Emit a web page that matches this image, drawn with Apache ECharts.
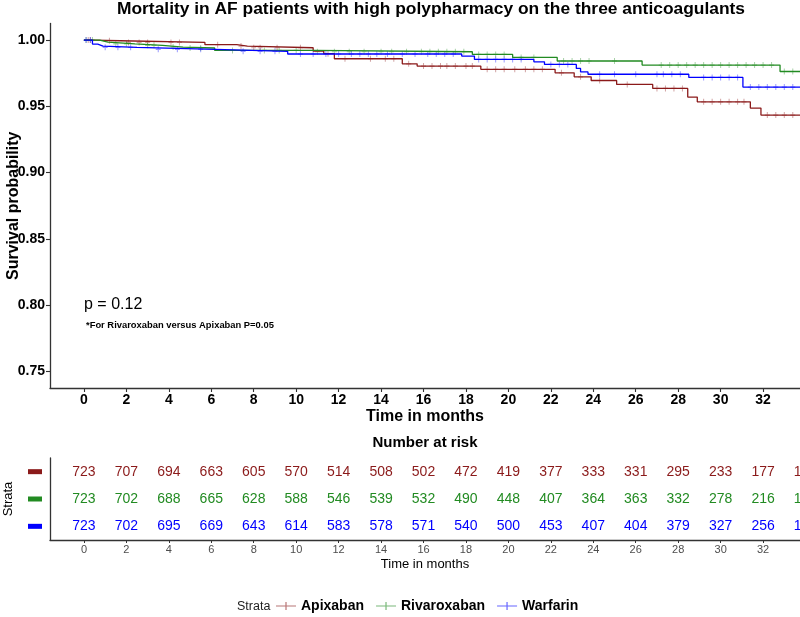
<!DOCTYPE html>
<html><head><meta charset="utf-8">
<script src="https://cdn.jsdelivr.net/npm/echarts@6/dist/echarts.min.js"></script>
<style>html,body{margin:0;padding:0;background:#fff}#c{width:800px;height:617px}</style>
</head><body><div id="c"></div>
<script>
const FONT = '"Liberation Sans", Arial, sans-serif';
const strata = ['Apixaban', 'Rivaroxaban', 'Warfarin'];
const colors = ['#8b1a1a', '#228b22', '#0000ff'];

// Kaplan-Meier step points [month, survival]
const apixabanSteps = [[0,1],[0.4,0.9995],[1.7,0.9982],[5.7,0.9965],[7.2,0.9955],[7.7,0.9942],[10.8,0.9917],[11.3,0.9897],[11.8,0.9859],[15.0,0.9821],[15.7,0.9804],[18.7,0.9779],[22.2,0.9753],[23.1,0.9723],[23.9,0.9695],[25.1,0.9665],[26.8,0.9635],[28.45,0.9570],[28.9,0.9534],[31.4,0.9487],[31.9,0.9434],[34.5,0.9434]];
const rivaroxabanSteps = [[0,1],[0.74,0.9985],[1.13,0.9972],[2.4,0.996],[3.7,0.9947],[4.67,0.994],[6.16,0.9922],[10.8,0.9912],[18.3,0.9892],[20.2,0.9869],[22.3,0.9842],[26.3,0.9811],[32.8,0.9763],[34.5,0.9763]];
const warfarinSteps = [[0,1],[0.4,0.997],[0.65,0.9955],[0.9,0.9945],[2.5,0.993],[6.2,0.9915],[9.6,0.9895],[17.8,0.9879],[18.4,0.9854],[21.2,0.9836],[21.7,0.9816],[23.2,0.9786],[23.4,0.976],[23.75,0.9742],[28.5,0.9718],[31.05,0.9645],[34.5,0.9645]];

// censoring times (months)
const apixabanCensor = [0.2,0.3,1.2,2.1,2.6,3.0,4.1,4.5,6.3,7.4,8.0,8.3,9.1,10.2,11.5,12.3,13.5,14.2,14.6,15.3,16.0,16.4,16.8,17.1,17.5,18.0,18.3,19.0,19.4,19.8,20.3,20.8,21.2,21.6,22.5,23.4,24.3,25.6,27.0,27.4,27.8,28.2,29.2,29.6,30.0,30.4,30.8,31.1,32.2,32.6,33.0,33.4,33.8];
const rivaroxabanCensor = [0.1,0.4,1.5,2.0,3.0,3.3,4.2,5.0,5.5,7.0,8.5,9.2,10.0,11.0,11.8,12.5,13.2,14.0,14.5,15.2,15.9,16.3,16.7,17.1,17.5,17.9,18.6,19.0,19.4,19.8,20.6,21.2,22.6,23.0,23.4,23.8,25.0,27.2,27.6,28.0,28.4,28.8,29.2,29.6,30.0,30.4,30.8,31.2,31.6,32.0,32.4,33.0,33.4,33.8];
const warfarinCensor = [0.1,0.3,1.0,1.6,2.2,3.5,4.4,5.5,7.5,8.3,9.0,10.2,10.8,11.4,12.0,12.6,13.0,13.4,13.8,14.3,15.0,15.6,16.2,16.6,17.0,17.4,18.6,19.0,19.4,19.8,20.2,20.6,22.0,22.4,22.8,24.3,25.0,26.0,27.0,27.3,27.7,28.1,29.2,29.6,30.0,30.4,30.8,31.4,31.8,32.2,32.6,33.0,33.4,33.8];

// Number at risk table
const riskTimes = [0,2,4,6,8,10,12,14,16,18,20,22,24,26,28,30,32,34];
const riskApixaban = [723,707,694,663,605,570,514,508,502,472,419,377,333,331,295,233,177,128];
const riskRivaroxaban = [723,702,688,665,628,588,546,539,532,490,448,407,364,363,332,278,216,160];
const riskWarfarin = [723,702,695,669,643,614,583,578,571,540,500,453,407,404,379,327,256,190];

const xTicks = [0,2,4,6,8,10,12,14,16,18,20,22,24,26,28,30,32];
const yTicks = [0.75,0.80,0.85,0.90,0.95,1.00];

const steps = [apixabanSteps, rivaroxabanSteps, warfarinSteps];
const censors = [apixabanCensor, rivaroxabanCensor, warfarinCensor];
const risks = [riskApixaban, riskRivaroxaban, riskWarfarin];

function survAt(st, t) { let v = st[0][1]; for (const s of st) { if (s[0] <= t) v = s[1]; else break; } return v; }

const chart = echarts.init(document.getElementById('c'), null, {renderer: 'canvas'});
const XMIN = -1.6, XMAX = 33.74;
const axisColor = '#333';
const series = [];
strata.forEach((name, i) => {
  series.push({
    name: name, type: 'line', step: 'end', data: steps[i], xAxisIndex: 0, yAxisIndex: 0,
    symbol: 'none', showSymbol: false, clip: true, animation: false,
    lineStyle: {color: colors[i], width: 1.3}, itemStyle: {color: colors[i]}
  });
});
strata.forEach((name, i) => {
  series.push({
    name: name + ' censor', type: 'scatter', xAxisIndex: 0, yAxisIndex: 0, silent: true, animation: false,
    data: censors[i].map(t => [t, survAt(steps[i], t)]),
    symbol: 'path://M4,0h2v10h-2z M0,4h10v2h-10z', symbolSize: [5, 6],
    itemStyle: {color: colors[i], opacity: 0.4}
  });
});
strata.forEach((name, i) => {
  series.push({
    name: name + ' risk', type: 'scatter', xAxisIndex: 1, yAxisIndex: 1, silent: true, animation: false, clip: false,
    data: riskTimes.map((t, j) => [t, name, risks[i][j]]),
    symbolSize: 0, itemStyle: {color: colors[i], opacity: 1},
    label: {show: true, position: 'inside', formatter: p => p.value[2], color: colors[i], opacity: 1, fontSize: 14, fontFamily: FONT}
  });
});

const legendIcon = 'path://M0,4.4h20v1.2h-20z M9.4,1h1.2v8h-1.2z';

chart.setOption({
  backgroundColor: '#fff',
  animation: false,
  textStyle: {fontFamily: FONT},
  title: [
    {text: 'Mortality in AF patients with high polypharmacy on the three anticoagulants', left: 431, top: 1, textAlign: 'center', padding: 0,
      textStyle: {fontSize: 17.4, fontWeight: 'bold', color: '#000', fontFamily: FONT}},
    {text: 'Number at risk', left: 425, top: 435, textAlign: 'center', padding: 0,
      textStyle: {fontSize: 15, fontWeight: 'bold', color: '#000', fontFamily: FONT}},
    {text: 'p = 0.12', left: 84, top: 297, padding: 0,
      textStyle: {fontSize: 16, fontWeight: 'normal', color: '#000', fontFamily: FONT}},
    {text: '*For Rivaroxaban versus Apixaban P=0.05', left: 86, top: 321, padding: 0,
      textStyle: {fontSize: 9.4, fontWeight: 'bold', color: '#000', fontFamily: FONT}},
    {text: 'Strata', left: 237, top: 600, padding: 0,
      textStyle: {fontSize: 12.5, fontWeight: 'normal', color: '#222', fontFamily: FONT}}
  ],
  legend: {
    data: strata.map((n, i) => ({name: n, icon: legendIcon, itemStyle: {color: colors[i], opacity: 0.6}})),
    left: 276, top: 599, itemWidth: 20, itemHeight: 9, itemGap: 12, padding: 0,
    textStyle: {fontSize: 14, fontWeight: 'bold', color: '#000', fontFamily: FONT}
  },
  grid: [
    {left: 50, right: 0, top: 23.5, height: 364.5, containLabel: false, outerBoundsMode: 'none'},
    {left: 50, right: 0, top: 458, height: 82, containLabel: false, outerBoundsMode: 'none'}
  ],
  xAxis: [
    {type: 'value', gridIndex: 0, min: XMIN, max: XMAX,
      axisLine: {show: true, onZero: false, lineStyle: {color: axisColor, width: 1.3}},
      axisTick: {show: true, customValues: xTicks, length: 4, lineStyle: {color: axisColor, width: 1.1}},
      axisLabel: {customValues: xTicks, color: '#000', fontWeight: 'bold', fontSize: 14, margin: 5, fontFamily: FONT},
      splitLine: {show: false},
      name: 'Time in months', nameLocation: 'middle', nameGap: 21, nameMoveOverlap: false,
      nameTextStyle: {fontWeight: 'bold', fontSize: 16, color: '#000', fontFamily: FONT}},
    {type: 'value', gridIndex: 1, min: XMIN, max: XMAX,
      axisLine: {show: true, onZero: false, lineStyle: {color: axisColor, width: 1.3}},
      axisTick: {show: true, customValues: xTicks, length: 3, lineStyle: {color: axisColor, width: 1}},
      axisLabel: {customValues: xTicks, color: '#4d4d4d', fontSize: 11, margin: 4, fontFamily: FONT},
      splitLine: {show: false},
      name: 'Time in months', nameLocation: 'middle', nameGap: 18, nameMoveOverlap: false,
      nameTextStyle: {fontSize: 13, color: '#000', fontFamily: FONT}}
  ],
  yAxis: [
    {type: 'value', gridIndex: 0, min: 0.7375, max: 1.0125,
      axisLine: {show: true, onZero: false, lineStyle: {color: axisColor, width: 1.3}},
      axisTick: {show: true, customValues: yTicks, length: 4, lineStyle: {color: axisColor, width: 1.1}},
      axisLabel: {customValues: yTicks, formatter: v => v.toFixed(2), color: '#000', fontWeight: 'bold', fontSize: 14, margin: 5, fontFamily: FONT},
      splitLine: {show: false},
      name: 'Survival probability', nameLocation: 'middle', nameGap: 28, nameMoveOverlap: false,
      nameTextStyle: {fontWeight: 'bold', fontSize: 16, color: '#000', fontFamily: FONT}},
    {type: 'category', gridIndex: 1, data: ['Warfarin', 'Rivaroxaban', 'Apixaban'],
      axisLine: {show: true, onZero: false, lineStyle: {color: axisColor, width: 1.3}},
      axisTick: {show: false},
      axisLabel: {margin: 8, formatter: v => '{s' + strata.indexOf(v) + '|}',
        rich: {
          s0: {backgroundColor: colors[0], width: 14, height: 5},
          s1: {backgroundColor: colors[1], width: 14, height: 5},
          s2: {backgroundColor: colors[2], width: 14, height: 5}
        }},
      name: 'Strata', nameLocation: 'middle', nameGap: 35, nameMoveOverlap: false,
      nameTextStyle: {fontSize: 13, color: '#000', fontFamily: FONT}}
  ],
  series: series
});
</script></body></html>
